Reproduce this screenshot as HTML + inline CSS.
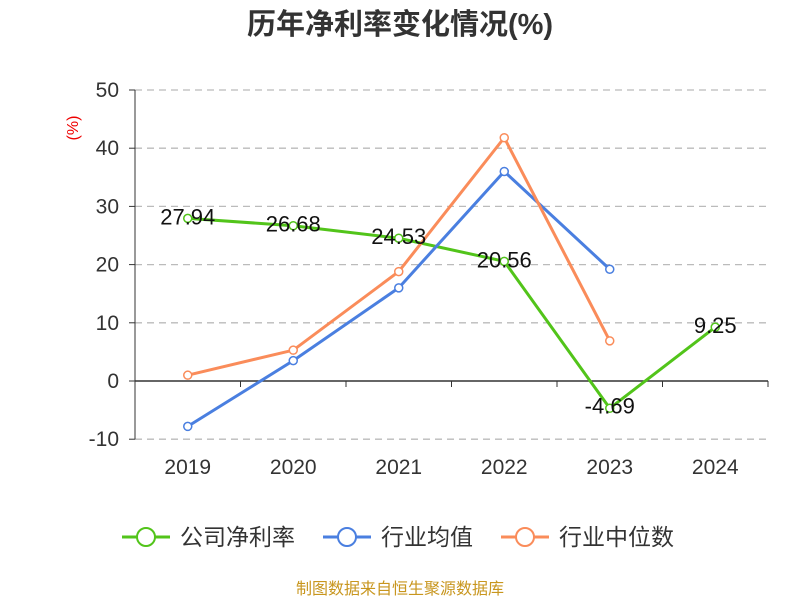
<!DOCTYPE html>
<html><head><meta charset="utf-8"><style>
body{margin:0;background:#fff;font-family:"Liberation Sans","Noto Sans CJK SC",sans-serif;}
</style></head><body>
<svg id="c" width="800" height="600" xmlns="http://www.w3.org/2000/svg">
<text x="400" y="34" text-anchor="middle" font-size="29" font-weight="bold" fill="#333" font-family="Liberation Sans, Noto Sans CJK SC, sans-serif">历年净利率变化情况(%)</text>
<text transform="translate(78,128) rotate(-90)" text-anchor="middle" font-size="16" fill="#e00">(%)</text>
<g id="grid"></g><g id="axes"></g><g id="series"></g>
<g font-size="23" fill="#333" font-family="Liberation Sans, Noto Sans CJK SC, sans-serif">
<g><line x1="122" y1="537" x2="170" y2="537" stroke="#52c41a" stroke-width="3"/><circle cx="146" cy="537" r="9" fill="#fff" stroke="#52c41a" stroke-width="2"/><text x="180" y="545">公司净利率</text></g>
<g><line x1="323" y1="537" x2="371" y2="537" stroke="#4a7fe0" stroke-width="3"/><circle cx="347" cy="537" r="9" fill="#fff" stroke="#4a7fe0" stroke-width="2"/><text x="381" y="545">行业均值</text></g>
<g><line x1="501" y1="537" x2="549" y2="537" stroke="#fa8c5a" stroke-width="3"/><circle cx="525" cy="537" r="9" fill="#fff" stroke="#fa8c5a" stroke-width="2"/><text x="559" y="545">行业中位数</text></g>
</g>
<text x="400" y="594" text-anchor="middle" font-size="16" fill="#c8961e">制图数据来自恒生聚源数据库</text>
</svg>
<script>
const categories=["2019","2020","2021","2022","2023","2024"];
const companyValues=[27.94,26.68,24.53,20.56,-4.69,9.25];
const avgValues=[-7.8,3.5,16.0,36.0,19.2,null];
const medianValues=[1.0,5.3,18.8,41.8,6.9,null];
const yTicks=[50,40,30,20,10,0,-10];
const NS="http://www.w3.org/2000/svg";
const x0=135,x1=768,bw=(x1-x0)/categories.length;
const xs=i=>x0+bw*(i+0.5);
const ys=v=>381-v*5.82;
function mk(t,a,p){const e=document.createElementNS(NS,t);for(const k in a)e.setAttribute(k,a[k]);p.appendChild(e);return e;}
const grid=document.getElementById('grid'),axes=document.getElementById('axes'),ser=document.getElementById('series');
yTicks.forEach(v=>{
 if(v!==0){const g=mk('line',{x1:x0,x2:x1,y1:ys(v),y2:ys(v),stroke:'#bbb','stroke-width':1.3,'stroke-dasharray':'7,5'},grid);
 
 }
 const t=mk('text',{x:x0-16,y:ys(v)+7,'text-anchor':'end','font-size':21,fill:'#333'},axes);t.textContent=v;
 
 
 mk('line',{x1:x0-6,x2:x0,y1:ys(v),y2:ys(v),stroke:'#333'},axes);
});
const ya=mk('line',{x1:x0,x2:x0,y1:ys(50),y2:ys(-10),stroke:'#333'},axes);


const xa=mk('line',{x1:x0,x2:x1,y1:ys(0),y2:ys(0),stroke:'#333','stroke-width':1.5},axes);


for(let i=0;i<=categories.length;i++)mk('line',{x1:x0+bw*i,x2:x0+bw*i,y1:ys(0),y2:ys(0)+6,stroke:'#333'},axes);
categories.forEach((c,i)=>{const t=mk('text',{x:xs(i),y:474,'text-anchor':'middle','font-size':21,fill:'#333'},axes);t.textContent=c;
 
 });
function series(vals,color,name){
 const g=mk('g',{},ser);
 
 
 const pts=vals.map((v,i)=>v==null?null:[xs(i),ys(v)]).filter(p=>p);
 mk('polyline',{points:pts.map(p=>p.join(',')).join(' '),fill:'none',stroke:color,'stroke-width':3},g);
 pts.forEach(p=>{const c=mk('circle',{cx:p[0],cy:p[1],r:4,fill:'#fff',stroke:color,'stroke-width':1.5},g);
  
  });
}
series(companyValues,'#52c41a','company-series');
series(avgValues,'#4a7fe0','industry-average-series');
series(medianValues,'#fa8c5a','industry-median-series');
companyValues.forEach((v,i)=>{const t=mk('text',{x:xs(i),y:v<0?ys(v)+5+0:ys(v)+6,'text-anchor':'middle','font-size':22,fill:'#111'},ser);t.textContent=v.toFixed(2);
 
 });
</script>
</body></html>
